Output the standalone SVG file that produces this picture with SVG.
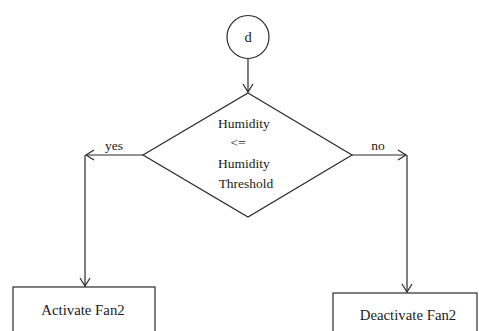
<svg xmlns="http://www.w3.org/2000/svg" width="479" height="331" viewBox="0 0 479 331">
<style>
.s{fill:#fff;stroke:#2a2a2a;stroke-width:1.2}
.c{fill:none;stroke:#2a2a2a;stroke-width:1.2}
text{font-family:"Liberation Serif","Times New Roman",serif;font-size:13.5px;fill:#1a1a1a;text-anchor:middle}
.b{font-size:14.8px}
</style>
<defs>
<marker id="a" markerWidth="12" markerHeight="12" refX="10" refY="6" orient="auto" markerUnits="userSpaceOnUse">
<path d="M2,1 L10,6 L2,11" fill="none" stroke="#2a2a2a" stroke-width="1.2"/>
</marker>
</defs>
<rect width="479" height="331" fill="#fff"/>
<g id="connectors">
<path class="c" d="M248,58 V92" marker-end="url(#a)"/>
<path class="c" d="M143,155 H86" marker-end="url(#a)"/>
<path class="c" d="M85,155 V286" marker-end="url(#a)"/>
<path class="c" d="M352,155 H406" marker-end="url(#a)"/>
<path class="c" d="M407,155 V292" marker-end="url(#a)"/>
<text x="114" y="150">yes</text>
<text x="378" y="150">no</text>
</g>
<g id="start">
<ellipse class="s" cx="248" cy="37" rx="21" ry="21.5"/>
<text x="248" y="42" style="font-size:14.5px">d</text>
</g>
<g id="decision">
<polygon class="s" points="248,93 352,155 248,217 143,155"/>
<text x="244" y="128">Humidity</text>
<text x="238" y="147">&lt;=</text>
<text x="244" y="168">Humidity</text>
<text x="246" y="188">Threshold</text>
</g>
<g id="activate">
<rect class="s" x="13" y="287" width="142" height="50"/>
<text class="b" x="83" y="315">Activate Fan2</text>
</g>
<g id="deactivate">
<rect class="s" x="333" y="293" width="144" height="50"/>
<text class="b" x="408" y="320">Deactivate Fan2</text>
</g>
</svg>
